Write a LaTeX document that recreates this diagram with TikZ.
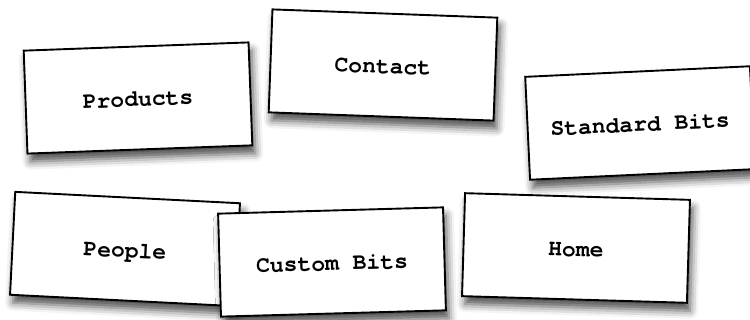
\documentclass[tikz,border=0pt]{standalone}
\usepackage{fontspec}
\newfontfamily\cardfont{texgyrecursor}[Extension=.otf, UprightFont=*-regular, BoldFont=*-bold]
\usetikzlibrary{shadows.blur}
\tikzset{
  card/.style={rectangle, draw=black, line width=1.9pt, fill=white,
    minimum width=225pt, minimum height=103pt, inner sep=0pt,
    text height=17pt, text depth=0pt,
    font=\cardfont\bfseries\fontsize{23}{27}\selectfont,
    blur shadow={shadow xshift=3pt, shadow yshift=-8pt, shadow blur radius=8pt, shadow opacity=70}}
}
\begin{document}
\begin{tikzpicture}[x=1pt,y=-1pt]
\useasboundingbox (0,0) rectangle (750,320);
\node[card, rotate=2.1] (products) at (138,98) {Products};
\node[card, rotate=-2.1] (contact) at (383,65) {Contact};
\node[card, rotate=2.7] (standard) at (640,123) {Standard Bits};
\node[card, rotate=-2.9] (people) at (125,249) {People};
\node[card, rotate=1.6] (custom) at (332,262) {Custom Bits};
\node[card, rotate=-1.7] (home) at (576,248) {Home};
\end{tikzpicture}
\end{document}
